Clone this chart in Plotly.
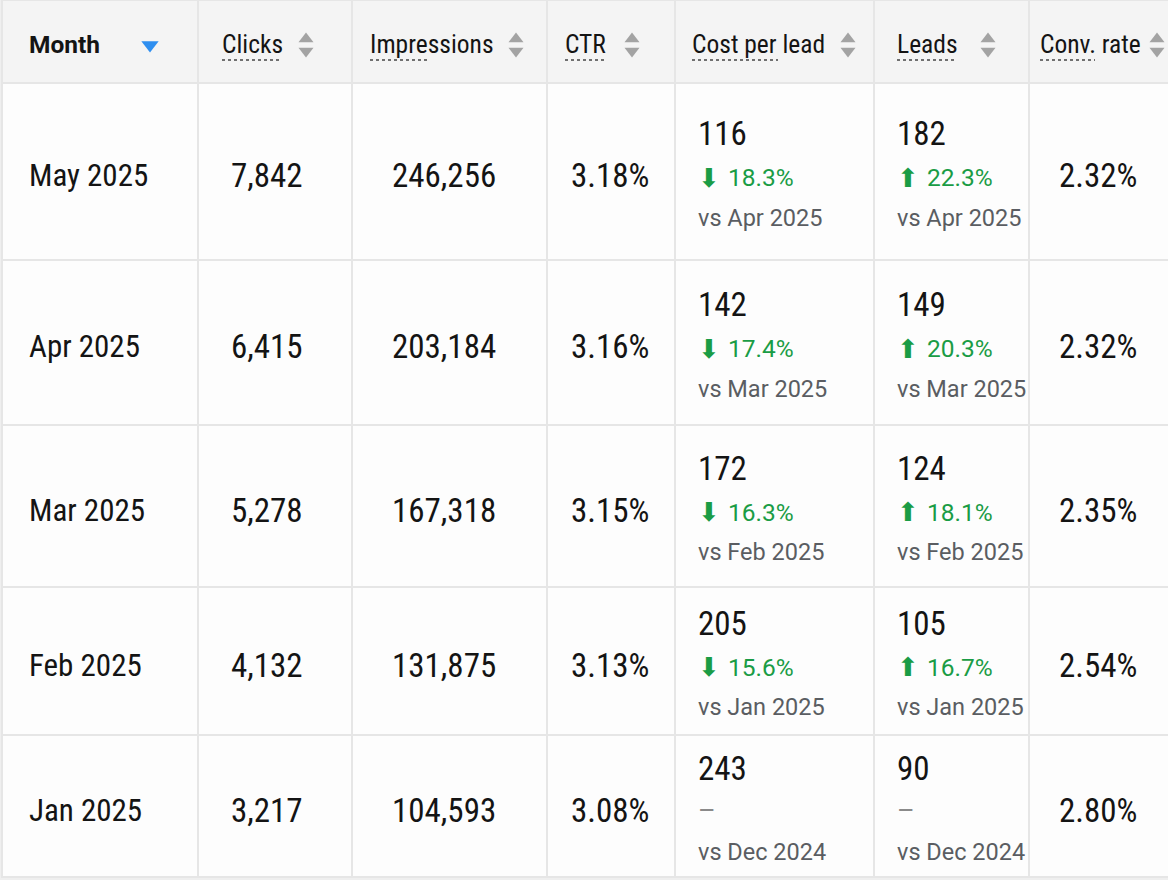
import plotly.graph_objects as go

# Datos de la tabla
headers = ["Month", "Clicks", "Impressions", "CTR", "Cost per lead", "Leads", "Conv. rate"]
months = ["May 2025", "Apr 2025", "Mar 2025", "Feb 2025", "Jan 2025"]
clicks = [7842, 6415, 5278, 4132, 3217]
impressions = [246256, 203184, 167318, 131875, 104593]
ctr = [3.18, 3.16, 3.15, 3.13, 3.08]
cost_per_lead = [116, 142, 172, 205, 243]
cpl_change = [18.3, 17.4, 16.3, 15.6, None]      # bajada
leads = [182, 149, 124, 105, 90]
leads_change = [22.3, 20.3, 18.1, 16.7, None]    # subida
compare_to = ["Apr 2025", "Mar 2025", "Feb 2025", "Jan 2025", "Dec 2024"]
conv_rate = [2.32, 2.32, 2.35, 2.54, 2.80]

# Layout (pixeles)
W, H = 1168, 880
col_edges = [2, 198, 352, 547, 675, 874, 1029, 1172]
row_edges = [0, 83, 260, 425, 587, 735, 877]
header_x = [27, 220, 368, 563, 690, 895, 1038]
sort_x = [150, 306, 516, 632, 848, 988, 1157]
underline_len = [0, 60, 60, 41, 86, 60, 55]
center_x = {1: 267, 2: 444, 3: 610, 6: 1098}
left_x = {0: 27, 4: 696, 5: 895}

COLORS = {
    "header_bg": "#f4f4f4",
    "cell_bg": "#fdfdfd",
    "grid": "#e6e6e6",
    "text": "#141414",
    "muted": "#5a5d62",
    "green": "#1a9c45",
    "sort": "#a3a3a3",
    "blue": "#2f8ff0",
}
FONT_MAIN = "Roboto Condensed, Liberation Sans Narrow, Roboto, sans-serif"
FONT_SUB = "Roboto, sans-serif"

fig = go.Figure()
shapes = []
annotations = []

def add_text(x, y, text, size, color, family, anchor="center", bold=False):
    annotations.append(dict(
        x=x, y=y, xref="x", yref="y", text=f"<b>{text}</b>" if bold else text,
        showarrow=False, xanchor=anchor, yanchor="middle",
        font=dict(size=size, color=color, family=family),
    ))

# Celdas
for r in range(len(row_edges) - 1):
    for c in range(len(col_edges) - 1):
        shapes.append(dict(
            type="rect", xref="x", yref="y",
            x0=col_edges[c], x1=col_edges[c + 1], y0=row_edges[r], y1=row_edges[r + 1],
            fillcolor=COLORS["header_bg"] if r == 0 else COLORS["cell_bg"],
            line=dict(color=COLORS["grid"], width=2), layer="below",
        ))

# Cabecera
hy = 44
for c, h in enumerate(headers):
    if c == 0:
        add_text(header_x[c], hy, h, 24.5, COLORS["text"], FONT_SUB, anchor="left", bold=True)
    else:
        add_text(header_x[c], hy, h, 25.5, COLORS["text"], FONT_MAIN, anchor="left")
    if underline_len[c]:
        shapes.append(dict(
            type="line", xref="x", yref="y",
            x0=header_x[c] + 2, x1=header_x[c] + 2 + underline_len[c], y0=60, y1=60,
            line=dict(color="#444444", width=1.5, dash="dot"),
        ))

fig.add_trace(go.Scatter(
    x=[sort_x[0]], y=[hy + 1], mode="markers", hoverinfo="skip",
    marker=dict(symbol="triangle-down", size=15, color=COLORS["blue"]),
))
fig.add_trace(go.Scatter(
    x=sort_x[1:], y=[hy - 5] * (len(sort_x) - 1), mode="markers", hoverinfo="skip",
    marker=dict(symbol="triangle-up", size=13, color=COLORS["sort"]),
))
fig.add_trace(go.Scatter(
    x=sort_x[1:], y=[hy + 7] * (len(sort_x) - 1), mode="markers", hoverinfo="skip",
    marker=dict(symbol="triangle-down", size=13, color=COLORS["sort"]),
))

# Filas
for i in range(len(months)):
    cy = (row_edges[i + 1] + row_edges[i + 2]) / 2
    add_text(left_x[0], cy + 4, months[i], 31, COLORS["text"], FONT_MAIN, anchor="left")
    add_text(center_x[1], cy + 4, f"{clicks[i]:,}", 33, COLORS["text"], FONT_MAIN)
    add_text(center_x[2], cy + 4, f"{impressions[i]:,}", 33, COLORS["text"], FONT_MAIN)
    add_text(center_x[3], cy + 4, f"{ctr[i]:.2f}%", 33, COLORS["text"], FONT_MAIN)
    add_text(center_x[6], cy + 4, f"{conv_rate[i]:.2f}%", 33, COLORS["text"], FONT_MAIN)

    for col, val, chg, arrow in [(4, cost_per_lead[i], cpl_change[i], "⬇"),
                                 (5, leads[i], leads_change[i], "⬆")]:
        x0 = left_x[col]
        add_text(x0, cy - 38, f"{val}", 33, COLORS["text"], FONT_MAIN, anchor="left")
        if chg is None:
            add_text(x0, cy + 5, "–", 27, "#8a8a8a", FONT_SUB, anchor="left")
        else:
            add_text(x0, cy + 6, arrow, 26, COLORS["green"], "DejaVu Sans", anchor="left")
            add_text(x0 + 30, cy + 6, f"{chg:.1f}%", 24.5, COLORS["green"], FONT_SUB, anchor="left")
        add_text(x0, cy + 46, f"vs {compare_to[i]}", 23.5, COLORS["muted"], FONT_SUB, anchor="left")

fig.update_layout(
    width=W, height=H,
    margin=dict(l=0, r=0, t=0, b=0),
    paper_bgcolor="#efefef", plot_bgcolor="#efefef",
    showlegend=False,
    shapes=shapes, annotations=annotations,
    xaxis=dict(range=[0, W], visible=False, fixedrange=True),
    yaxis=dict(range=[H, 0], visible=False, fixedrange=True),
)

fig.write_html(
    "out.html",
    config={"displayModeBar": False},
    post_script="document.body.style.margin='0';document.body.style.overflow='hidden';",
)
